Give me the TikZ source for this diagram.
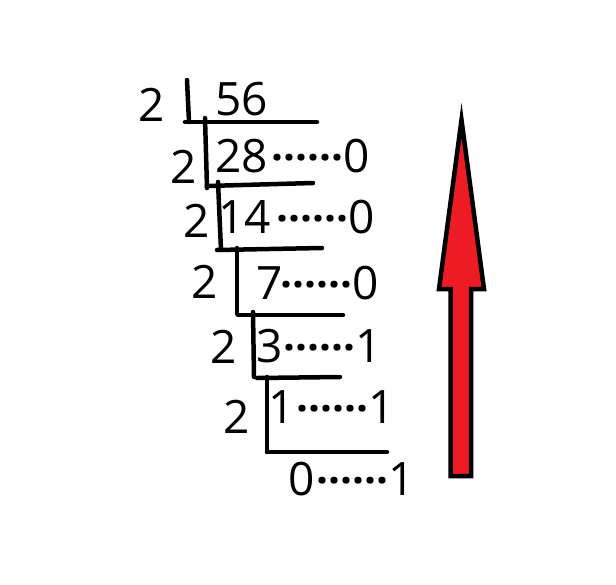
\documentclass[tikz,border=0pt]{standalone}
\usepackage{fontspec}
\setmainfont{Open Sans}
\definecolor{arrowred}{RGB}{237,28,36}
\newcommand{\leader}{{\bfseries\fontsize{42}{42}\selectfont ······}}
\begin{document}
\begin{tikzpicture}[x=1pt, y=-1pt, digit/.style={inner sep=0pt, anchor=base west, font=\fontsize{46}{46}\selectfont}, bar/.style={line width=4.5pt, line cap=round}]
        \tikzstyle{every node}=[digit]
        \useasboundingbox (0,0) rectangle (616,584);

          % divisors
          \node (d1) at (138,121) {2};
          \node (d2) at (170,183) {2};
          \node (d3) at (183,237) {2};
          \node (d4) at (191,298) {2};
          \node (d5) at (210,363) {2};
          \node (d6) at (223,433) {2};

          % quotients
          \node (q1) at (215,115) {56};
          \node (q2) at (215,172) {28};
          \node (q3) at (218,233) {14};
          \node (q4) at (256,299) {7};
          \node (q5) at (256,362) {3};
          \node (q6) at (268,423) {1};
          \node (q7) at (288,495) {0};

          % remainders
          \node (r2) at (271,172) {\leader0};
          \node (r3) at (276,233) {\leader0};
          \node (r4) at (280,299) {\leader0};
          \node (r5) at (283,362) {\leader1};
          \node (r6) at (296,423) {\leader1};
          \node (r7) at (316,495) {\leader1};

          % division bars
          \draw[bar] (187,80) -- (189,122);
          \draw[bar] (185,122) -- (317,122);
          \draw[bar] (205,118) -- (207,188);
          \draw[bar] (207,186) -- (313,183);
          \draw[bar] (218,182) -- (221,250);
          \draw[bar] (217,250) -- (322,248);
          \draw[bar] (237,248) -- (237,314);
          \draw[bar] (238,315) -- (343,315);
          \draw[bar] (253,312) -- (254,377);
          \draw[bar] (257,378) -- (340,377);
          \draw[bar] (267,377) -- (267,452);
          \draw[bar] (267,452) -- (387,452);

          % read upwards
          \draw[line width=4.5pt, fill=arrowred] (461.5,120) -- (484,289) -- (471,289) -- (471,476)
            -- (450.5,476) -- (450.5,289) -- (439,289) -- cycle;

\end{tikzpicture}
\end{document}
